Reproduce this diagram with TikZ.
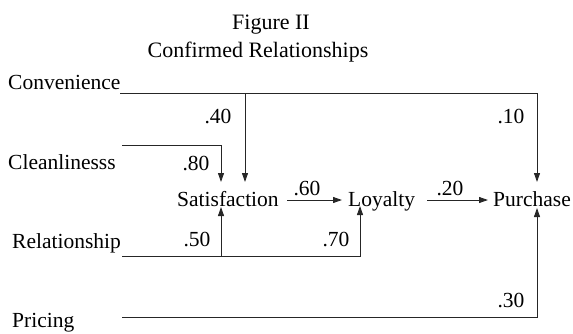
\documentclass[tikz,border=0pt]{standalone}
\usepackage{fontspec}
\setmainfont{Liberation Serif}
\usetikzlibrary{arrows.meta}
\begin{document}
\begin{tikzpicture}[x=1pt,y=-1pt,
  lbl/.style={inner sep=0pt,anchor=base west,font=\fontsize{21.5}{24}\selectfont},
  num/.style={inner sep=0pt,anchor=base,font=\fontsize{21.5}{24}\selectfont},
  ttl/.style={inner sep=0pt,anchor=base,font=\fontsize{22}{24}\selectfont},
  wire/.style={line width=0.9pt,draw=black!85},
  arr/.style={wire,-{Triangle[length=9pt,width=6pt]}}]
\useasboundingbox (0,0) rectangle (573,333);
% titles
\node[ttl] (t1) at (271,29) {Figure II};
\node[ttl] (t2) at (258,57) {Confirmed Relationships};
% labels
\node[lbl] (conv) at (8,89) {Convenience};
\node[lbl] (clean) at (8,169) {Cleanlinesss};
\node[lbl] (rel) at (12,248) {Relationship};
\node[lbl] (pric) at (12,327) {Pricing};
\node[lbl] (sat) at (177,206) {Satisfaction};
\node[lbl] (loy) at (348,206) {Loyalty};
\node[lbl] (pur) at (493,206) {Purchase};
% numbers
\node[num] (n40) at (218,123) {.40};
\node[num] (n10) at (511,123) {.10};
\node[num] (n80) at (196,170) {.80};
\node[num] (n50) at (197,246) {.50};
\node[num] (n70) at (336,246) {.70};
\node[num] (n60) at (307,195) {.60};
\node[num] (n20) at (450,195) {.20};
\node[num] (n30) at (511,307) {.30};
% coordinates
\coordinate (c0) at (120,93);
\coordinate (c1) at (537,93);
\coordinate (c2) at (245,93);
\coordinate (s1) at (245,182);
\coordinate (p1) at (537,182);
\coordinate (k0) at (122,145);
\coordinate (k1) at (221,145);
\coordinate (s2) at (221,182);
\coordinate (r0) at (122,256);
\coordinate (r1) at (360,256);
\coordinate (r2) at (221,256);
\coordinate (s3) at (221,207);
\coordinate (l1) at (360,206);
\coordinate (q0) at (122,317);
\coordinate (q1) at (537,317);
\coordinate (p2) at (537,208);
\coordinate (a0) at (287,200);
\coordinate (a1) at (342,200);
\coordinate (b0) at (427,200);
\coordinate (b1) at (488,200);
% connectors
\draw[arr] (c0) -- (c1) -- (p1);
\draw[arr] (c2) -- (s1);
\draw[arr] (k0) -- (k1) -- (s2);
\draw[arr] (r0) -- (r1) -- (l1);
\draw[arr] (r2) -- (s3);
\draw[arr] (q0) -- (q1) -- (p2);
\draw[arr] (a0) -- (a1);
\draw[arr] (b0) -- (b1);
\end{tikzpicture}
\end{document}
